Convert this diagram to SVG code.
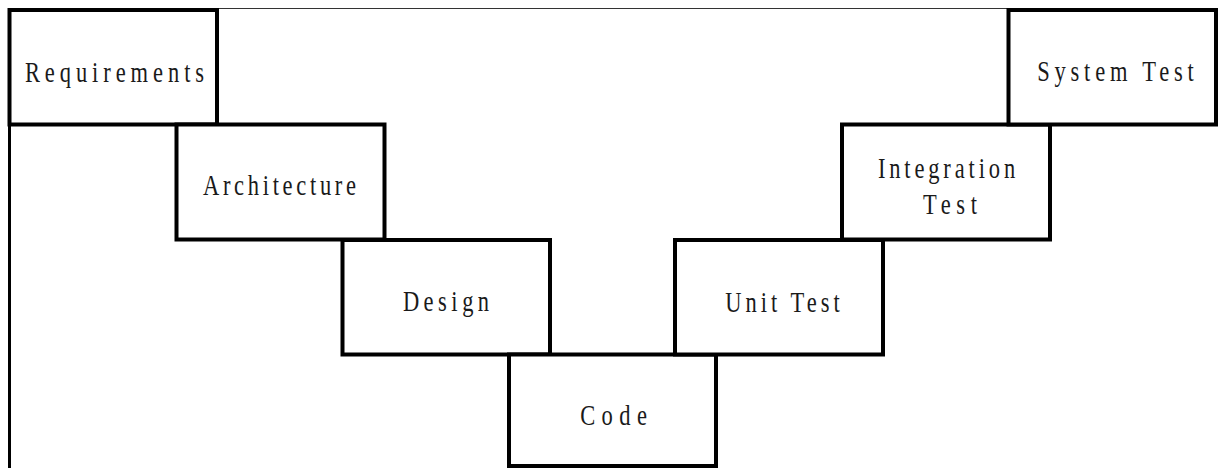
<svg xmlns="http://www.w3.org/2000/svg" width="1218" height="468" viewBox="0 0 1218 468">
<style>
.box{fill:#fff;stroke:#000;stroke-width:4}
.lbl{font-family:"Liberation Serif","DejaVu Serif",serif;font-size:30px;fill:#1a1a1a;text-anchor:middle}
.frame{fill:none}
</style>
<rect x="0" y="0" width="1218" height="468" fill="#fff"/>
<g id="frame">
<line class="frame" x1="8" y1="8.5" x2="1218" y2="8.5" stroke="#333" stroke-width="1.2"/>
<line class="frame" x1="9.5" y1="8" x2="9.5" y2="468" stroke="#000" stroke-width="3"/>
</g>
<g id="connectors"></g>
<g id="requirements">
<rect class="box" x="9.5" y="10" width="207.5" height="114.5"/>
<text class="lbl" transform="translate(114.5,82) scale(0.75,1)" x="0" y="0" textLength="239" lengthAdjust="spacing">Requirements</text>
</g>
<g id="architecture">
<rect class="box" x="176.5" y="124.5" width="208" height="115"/>
<text class="lbl" transform="translate(279.5,195) scale(0.75,1)" x="0" y="0" textLength="204" lengthAdjust="spacing">Architecture</text>
</g>
<g id="design">
<rect class="box" x="342.5" y="240" width="207.5" height="114.5"/>
<text class="lbl" transform="translate(446,311) scale(0.75,1)" x="0" y="0" textLength="115" lengthAdjust="spacing">Design</text>
</g>
<g id="code">
<rect class="box" x="509" y="354.5" width="207" height="111.5"/>
<text class="lbl" transform="translate(613.5,425) scale(0.75,1)" x="0" y="0" textLength="89" lengthAdjust="spacing">Code</text>
</g>
<g id="unit-test">
<rect class="box" x="675" y="240" width="208" height="114.5"/>
<text class="lbl" transform="translate(782.5,312) scale(0.75,1)" x="0" y="0" textLength="153" lengthAdjust="spacing">Unit Test</text>
</g>
<g id="integration-test">
<rect class="box" x="842" y="124.5" width="208" height="115"/>
<text class="lbl" transform="translate(946.5,178) scale(0.75,1)" x="0" y="0" textLength="183" lengthAdjust="spacing">Integration</text>
<text class="lbl" transform="translate(950,214) scale(0.75,1)" x="0" y="0" textLength="72" lengthAdjust="spacing">Test</text>
</g>
<g id="system-test">
<rect class="box" x="1008.5" y="10" width="207.5" height="114.5"/>
<text class="lbl" transform="translate(1115.5,81) scale(0.75,1)" x="0" y="0" textLength="209" lengthAdjust="spacing">System Test</text>
</g>
</svg>
